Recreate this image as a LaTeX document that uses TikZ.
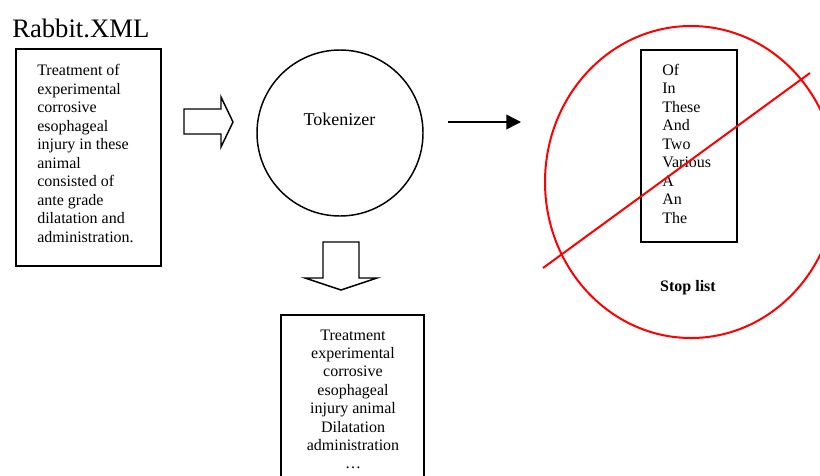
\documentclass[tikz,border=0pt]{standalone}
\usepackage{fontspec}
\setmainfont{Liberation Serif}
\usetikzlibrary{arrows.meta,shapes.geometric}
\begin{document}
\begin{tikzpicture}[x=0.75pt,y=-0.75pt,
  frame/.style={draw=black, line width=1.1pt, inner sep=0pt},
  body/.style={font=\fontsize{12}{14}\selectfont, inner sep=0pt},
  blockarrow/.style={draw=black, line width=1.1pt, line join=miter, fill=white},
  cross/.style={draw=red, line width=1.5pt},
  flow/.style={draw=black, line width=1.1pt, -{Triangle[length=11pt,width=11pt]}}]
\useasboundingbox (0,0) rectangle (820,475);
\clip (0,0) rectangle (820,475);

% source document
\node[anchor=base west, inner sep=0pt, font=\fontsize{20}{24}\selectfont] (title) at (12,37) {Rabbit.XML};
\node[frame, minimum width=108.75pt, minimum height=162.75pt] (src) at (88.5,157.5) {};
\foreach \w [count=\i from 0] in {Treatment of, experimental, corrosive, esophageal,
    injury in these, animal, consisted of, ante grade, dilatation and, administration.}
  \node[body, anchor=base west] (src-\i) at (37,75.5+18.5*\i) {\w};

% block arrow into the tokenizer
\draw[blockarrow] (184,109) -- (221,109) -- (221,97) -- (233,122) -- (221,147)
  -- (221,134) -- (184,134) -- cycle;

% tokenizer
\node[draw=black, line width=1.1pt, circle, minimum size=124.5pt, inner sep=0pt] (tok) at (340,133) {};
\node[anchor=base, inner sep=0pt, font=\fontsize{13.5}{16}\selectfont] (toklabel) at (339.5,125) {Tokenizer};

% arrow towards the stop list
\coordinate (out-a) at (448,122);
\coordinate (out-b) at (521,122);
\draw[flow] (out-a) -- (out-b);

% block arrow down to the token list
\draw[blockarrow] (323,242) -- (359,242) -- (359,278) -- (377,278) -- (341,290)
  -- (305,278) -- (323,278) -- cycle;

% resulting tokens
\node[frame, minimum width=107.25pt, minimum height=150pt] (tokens) at (352.5,415) {};
\foreach \w [count=\i from 0] in {Treatment, experimental, corrosive, esophageal,
    injury animal, Dilatation, administration, …}
  \node[body, anchor=base] (tokens-\i) at (353,340+18.4*\i) {\w};

% stop list, crossed out
\node[frame, minimum width=72pt, minimum height=144pt] (stop) at (689,146) {};
\foreach \w [count=\i from 0] in {Of, In, These, And, Two, Various, A, An, The}
  \node[body, anchor=base west] (stop-\i) at (662,75+18.5*\i) {\w};
\node[body, anchor=base, font=\fontsize{12}{14}\selectfont\bfseries] (stoplabel) at (688,291) {Stop list};

\node[draw=red, line width=1.5pt, ellipse, minimum width=219pt, minimum height=234pt, inner sep=0pt] (ring) at (691,182) {};
\coordinate (bar-a) at (543,268);
\coordinate (bar-b) at (810,73);
\draw[cross] (bar-a) -- (bar-b);
\end{tikzpicture}
\end{document}
